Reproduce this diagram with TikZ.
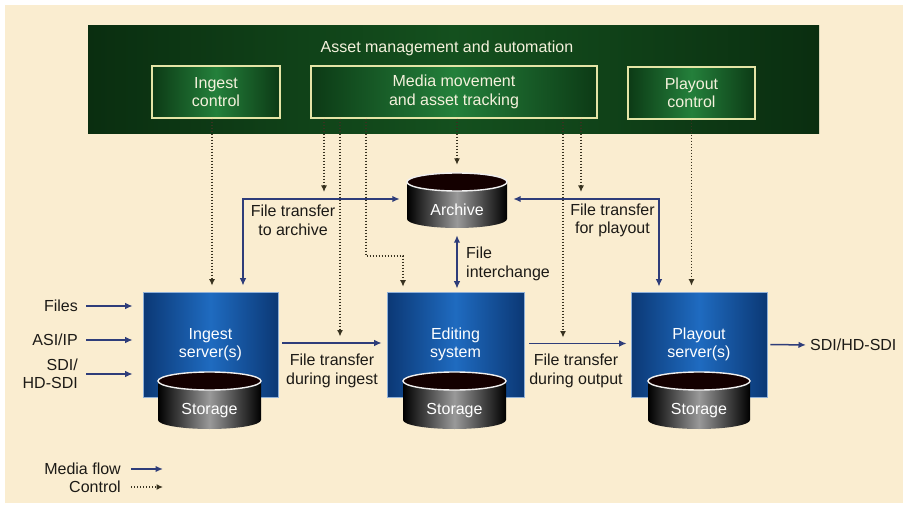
\documentclass[tikz,border=0pt]{standalone}
\usepackage{fontspec}
\setmainfont{Liberation Sans}
\usetikzlibrary{arrows.meta,calc}

\definecolor{paper}{HTML}{FAEDD0}
\definecolor{ink}{HTML}{1C1A16}
\definecolor{flowblue}{HTML}{2E3D7A}
\definecolor{ctrldark}{HTML}{38321F}
\definecolor{banddark}{HTML}{0A2E10}
\definecolor{bandmid}{HTML}{14501E}
\definecolor{boxedge}{HTML}{0C3A15}
\definecolor{boxglow}{HTML}{24803B}
\definecolor{boxrim}{HTML}{E4E4A6}
\definecolor{srvdark}{HTML}{0B3875}
\definecolor{srvlight}{HTML}{1F6BC0}
\definecolor{srvrim}{HTML}{8FB0D8}
\definecolor{bandtext}{HTML}{F4F1DC}

\tikzset{
  txt/.style={font=\fontsize{16}{18.5}\selectfont, inner sep=0pt, align=center},
  lbl/.style={txt, text=ink},
  ctlbox/.style={txt, text=bandtext, draw=boxrim, line width=1.4pt,
    left color=boxedge, right color=boxedge, middle color=boxglow,
    minimum height=52pt},
  server/.style={txt, text=white, draw=srvrim, line width=0.6pt,
    left color=srvdark, right color=srvdark, middle color=srvlight,
    minimum height=105pt},
  drumtext/.style={txt, text=white},
  flow/.style={draw=flowblue, line width=1.5pt, -{Latex[length=7.5pt,width=6.5pt]}},
  flowboth/.style={draw=flowblue, line width=1.5pt,
    {Latex[length=7.5pt,width=6.5pt]}-{Latex[length=7.5pt,width=6.5pt]}},
  ctrl/.style={draw=ctrldark, line width=1.3pt, dash pattern=on 1.2pt off 1.8pt,
    -{Latex[length=6.5pt,width=6pt]}},
}

% storage drum: #1 centre x, #2 y of top rim centre, #3 half width, #4 body height
\newcommand\drum[4]{%
  \shade[left color=black, right color=black, middle color=gray!80]
    (#1-#3,#2) -- ++(0,-#4)
    arc[start angle=180, end angle=360, x radius=#3, y radius=9]
    -- ++(0,#4) -- cycle;
  \draw[white!88!gray, line width=1.4pt, fill=black!92!red]
    (#1,#2) ellipse[x radius=#3, y radius=9];
}

\begin{document}
\begin{tikzpicture}[x=1pt,y=1pt]
  % page and paper
  \useasboundingbox (0,0) rectangle (908,-508);
  \fill[white] (0,0) rectangle (908,-508);
  \fill[paper] (5,-5) rectangle (903,-503);

  % asset management band
  \node[draw=none, left color=banddark, right color=banddark, middle color=bandmid,
        minimum width=731pt, minimum height=108pt, inner sep=0pt]
        (band) at (453.5,-80) {};
  \node[txt, text=bandtext] (title) at (447,-48) {Asset management and automation};
  \node[ctlbox, minimum width=128pt] (ingestctl) at (216,-92) {Ingest\\control};
  \node[ctlbox, minimum width=286pt] (media) at (454,-92) {Media movement\\and asset tracking};
  \node[ctlbox, minimum width=127pt] (playoutctl) at (691.5,-93) {Playout\\control};

  % archive
  \drum{457}{-182}{50}{37}
  \node[minimum width=100pt, minimum height=55pt, inner sep=0pt] (archive) at (457,-200.5) {};
  \node[drumtext] (archivetxt) at (457,-210) {Archive};

  % servers with their storage
  \node[server, minimum width=135pt] (ingest) at (210.5,-344.5) {Ingest\\server(s)};
  \node[server, minimum width=137pt] (editing) at (455.5,-344.5) {Editing\\system};
  \node[server, minimum width=136pt] (playout) at (699,-344.5) {Playout\\server(s)};
  \drum{209.5}{-381}{51.5}{39}
  \drum{454.5}{-381}{51.5}{39}
  \drum{699}{-381}{51}{39}
  \node[drumtext] (ingstore) at (209.5,-410.5) {Storage};
  \node[drumtext] (edstore) at (454.5,-410.5) {Storage};
  \node[drumtext] (plstore) at (699,-410.5) {Storage};

  % inputs and output
  \node[lbl, anchor=east] (files) at (78,-306) {Files};
  \node[lbl, anchor=east] (asiip) at (78,-340) {ASI/IP};
  \node[lbl, anchor=east, align=right] (sdiin) at (78,-374) {SDI/\\HD-SDI};
  \node[lbl, anchor=west] (sdiout) at (810,-345) {SDI/HD-SDI};

  % labels on transfers
  \node[lbl] (ftarchive) at (293,-220.5) {File transfer\\to archive};
  \node[lbl] (ftplayout) at (612.5,-220.5) {File transfer\\for playout};
  \node[lbl, align=left, anchor=west] (interchange) at (466,-264) {File\\interchange};
  \node[lbl] (ftingest) at (332,-371) {File transfer\\during ingest};
  \node[lbl] (ftoutput) at (576,-371) {File transfer\\during output};

  % media flow
  \draw[flow, shorten <=8pt, shorten >=10pt] (files.east) -- (files.east -| ingest.west);
  \draw[flow, shorten <=8pt, shorten >=10pt] (asiip.east) -- (asiip.east -| ingest.west);
  \draw[flow, shorten <=8pt, shorten >=10pt] (sdiin.east) -- (sdiin.east -| ingest.west);
  \draw[flow, shorten <=4pt, shorten >=5pt]
    ([yshift=1.5pt]ingest.east) -- ([yshift=1.5pt]ingest.east -| editing.west);
  \draw[flow, shorten <=5pt, shorten >=4pt]
    ([yshift=1pt]editing.east) -- ([yshift=1pt]editing.east -| playout.west);
  \draw[flow, shorten <=3pt, shorten >=4pt] (playout.east) -- (sdiout.west);

  \draw[flowboth, shorten <=6pt, shorten >=7pt]
    ([xshift=32.5pt]ingest.north) |- ([yshift=1.5pt]archive.west);
  \draw[flowboth, shorten <=5pt, shorten >=6pt]
    ([xshift=-40pt]playout.north) |- ([yshift=1.5pt]archive.east);
  \draw[flowboth, shorten <=7pt, shorten >=3pt]
    (archive.south) -- (archive.south |- editing.north);

  % control
  \coordinate (ftarchline) at ([yshift=1.5pt]archive.west);
  \coordinate (edtap) at (403,-256);
  \draw[ctrl, shorten >=6pt]
    ([xshift=-4pt]ingestctl.south) -- ([xshift=-4pt]ingestctl.south |- ingest.north);
  \draw[ctrl, shorten >=7pt]
    ([xshift=-130pt]media.south) -- ([xshift=-130pt]media.south |- ftarchline);
  \draw[ctrl, shorten >=8pt]
    ([xshift=-114pt]media.south) -- ([xshift=-114pt]media.south |- ingest.east);
  \draw[ctrl, shorten >=5pt]
    ([xshift=-88pt]media.south) |- (edtap) -- (edtap |- editing.north);
  \draw[ctrl, shorten >=8pt]
    ([xshift=3pt]media.south) -- (archive.north);
  \draw[ctrl, shorten >=7pt]
    ([xshift=109pt]media.south) -- ([xshift=109pt]media.south |- editing.east);
  \draw[ctrl, shorten >=7pt]
    ([xshift=127pt]media.south) -- ([xshift=127pt]media.south |- ftarchline);
  \draw[ctrl, shorten >=6pt]
    (playoutctl.south) -- (playoutctl.south |- playout.north);

  % legend
  \node[lbl, anchor=east] (legflow) at (121,-469) {Media flow};
  \node[lbl, anchor=east] (legctrl) at (121,-487) {Control};
  \coordinate (legflowend) at (163,-469);
  \coordinate (legctrlend) at (163,-487);
  \draw[flow, shorten <=10pt] (legflow.east) -- (legflowend);
  \draw[ctrl, shorten <=10pt] (legctrl.east) -- (legctrlend);
\end{tikzpicture}
\end{document}
